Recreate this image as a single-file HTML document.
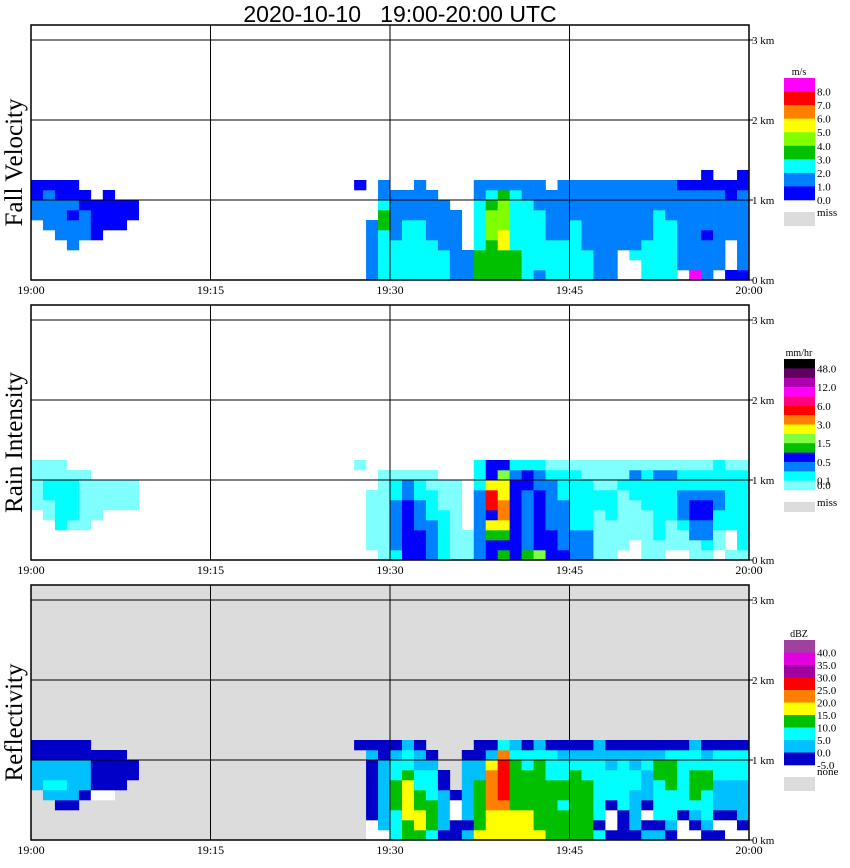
<!DOCTYPE html>
<html><head><meta charset="utf-8"><style>
html,body{margin:0;padding:0;background:#fff;}
svg{display:block;font-family:"Liberation Serif",serif;}
</style></head><body>
<svg id="chart" width="850" height="868" viewBox="0 0 850 868">
<text x="400" y="22" font-size="23" text-anchor="middle" style="white-space:pre" font-family="Liberation Sans, sans-serif">2020-10-10   19:00-20:00 UTC</text>
<g id="panels"></g>
</svg>
<script>
// time bins: minutes after 19:00; heights: km rows of 0.125 km (row 0 = 0-0.125 km)
const minutes = Array.from({length:60},(_,i)=>i);
const rowKm = 0.125;
const timeTicks = ["19:00","19:15","19:30","19:45","20:00"];
const heightTicks = ["0 km","1 km","2 km","3 km"];
// column strings, bottom-up, '.' = no echo
const fallVelocity = [
"......2211",".....22221","....222211","...2221211","....22211","....1111",".....1111",".....111","......11",
"","","","","","","","","","","","","","","","","","",".........1",
"222222","3333344322","333322222","333333222","3333332222","333322222","33322222","2222222","222",
"4443333322","4444555432","4446655542","4443333332","3333333322","2333333222","333322222","3333222222","3333332222","3332222222",
"2222222222","2222222222","...2222222","..32222222","3333222222","3333333222","3333332222",".222222221","9222222221",
"22221222211",".222222221","1...222211","12222222211"];
const rainRate = [
".....11111","....112211","...2222211","...122221","...111111","....1111",".....111",".....111",".....111",
"","","","","","","","","","","","","","","","","","",".........1",
".111111","111111111","233333221","444444331","444333221","333322211","22222111","11111111","111",
"3333333222","4457499744","5457887764","4444444432","5333333442","6444444332","4443333321","4333332221","3332222221",
"3332222211","1111122111","1111222111",".111111211","..11112231","1111122221","1122222231",".111222231",".112333221",
"1133443221","1233443221",".112233222","1..2222221","1222222221"];
const reflectivity = [
".....22211","....232211","...1232211","...1222211","....122211","....w1111","....w1111",".....1111","......11",
"","","","","","","","","","","","","","","","","","",".........1",
"ww11111121","w222222211","3334443321","4455554332","4554433221","344433321","1222211","11ww1",
"212222221","5444442211","5556666521","5556777763","5554444432","5554444331","5444444432","4444443331",
"4443443321","4444444321","4444443321","3133333322","1ww1333221","1113333321","1222233221","21w1222321",
"2133334421","1233344431","ww13333331","w123444332","1233344321","1w12223331","ww12223331","w122223331"];
const fvColors = {"1":"#0000ff","2":"#0080ff","3":"#00ffff","4":"#00c000","5":"#80ff00","6":"#ffff00","7":"#ff8000","8":"#ff0000","9":"#ff00ff"};
const rrColors = {"1":"#80ffff","2":"#00ffff","3":"#0080ff","4":"#0000ff","5":"#00c000","6":"#80ff40","7":"#ffff00","8":"#ff8000","9":"#ff0000"};
const dbzColors = {"w":"#ffffff","1":"#0000c8","2":"#00c0ff","3":"#00ffff","4":"#00c000","5":"#ffff00","6":"#ff8000","7":"#ff0000","8":"#a000a0","9":"#e000e0"};
const fvLegend = ["#ff00ff","#ff0000","#ff8000","#ffff00","#80ff00","#00c000","#00ffff","#0080ff","#0000ff"];
const fvLabels = ["8.0","7.0","6.0","5.0","4.0","3.0","2.0","1.0","0.0"];
const rrLegend = ["#000000","#600060","#b000b0","#ff00ff","#ff0080","#ff0000","#ff8000","#ffff00","#80ff40","#00c000","#0000ff","#0080ff","#00ffff","#80ffff"];
const rrLabels = ["48.0","12.0","6.0","3.0","1.5","0.5","0.1","0.0"];
const dbzLegend = ["#a040a0","#e000e0","#a000a0","#ff0000","#ff8000","#ffff00","#00c000","#00ffff","#00c0ff","#0000c8"];
const dbzLabels = ["40.0","35.0","30.0","25.0","20.0","15.0","10.0","5.0","0.0","-5.0"];

const NS="http://www.w3.org/2000/svg";
const root=document.getElementById('panels');
const X0=31,X1=749;
function xScale(m){return X0+m*(X1-X0)/60;}
function mk(tag,attrs,parent){const e=document.createElementNS(NS,tag);for(const k in attrs)e.setAttribute(k,attrs[k]);(parent||root).appendChild(e);return e;}

function panel(off,title,cols,colors,bg,legCols,legLabels,unit,missLabel,legTop,legH,labelMode){
  const base=280+off, top=25+off;
  const yScale=km=>base-km*80;
  const g=mk('g',{});
  
  
  const bgr=mk('rect',{x:X0,y:top,width:X1-X0,height:base-top,fill:bg},g);
  
  
  cols.forEach((s,i)=>{
    for(let r=0;r<s.length;r++){
      const c=s[r]; if(!(c in colors))continue;
      const x=xScale(minutes[i]), w=xScale(minutes[i]+1)-x;
      const cell=mk('rect',{x:x.toFixed(2),y:yScale((r+1)*rowKm).toFixed(2),width:(w+0.3).toFixed(2),height:10.3,fill:colors[c]},g);
      
      
    }
  });
  for(let k=1;k<=3;k++){
    const l=mk('line',{x1:X0,x2:X1,y1:yScale(k),y2:yScale(k),stroke:'#000','stroke-width':1},g);
    
    
  }
  for(let k=1;k<4;k++){
    const x=xScale(k*15);
    const l=mk('line',{x1:x,x2:x,y1:top,y2:base,stroke:'#000','stroke-width':1},g);
    
    
  }
  const fr=mk('rect',{x:X0,y:top,width:X1-X0,height:base-top,fill:'none',stroke:'#000','stroke-width':1.5},g);
  
  
  heightTicks.forEach((t,k)=>{
    const tk=mk('line',{x1:X1,x2:X1+4,y1:yScale(k),y2:yScale(k),stroke:'#000'},g);
    
    
    const tx=mk('text',{x:X1+3,y:yScale(k)+4,'font-size':11},g);
    tx.textContent=t;
    
    
  });
  timeTicks.forEach((t,k)=>{
    const tx=mk('text',{x:xScale(k*15),y:base+14,'font-size':12,'text-anchor':'middle'},g);
    tx.textContent=t;
    
    
  });
  const yt=mk('text',{x:0,y:0,'font-size':25,'text-anchor':'middle',transform:`translate(22,${(top+base)/2+10}) rotate(-90)`},g);
  yt.textContent=title;
  
  
  const lg=mk('g',{},g);
  
  
  const ut=mk('text',{x:799,y:legTop-3,'font-size':10,'text-anchor':'middle'},lg);
  ut.textContent=unit;
  
  
  const n=legCols.length, bh=legH/n;
  legCols.forEach((c,k)=>{
    const r=mk('rect',{x:784,y:(legTop+k*bh).toFixed(2),width:31,height:(bh+0.3).toFixed(2),fill:c},lg);
    
    
  });
  legLabels.forEach((t,k)=>{
    let y;
    if(labelMode==='rr'){const idx=[1,3,5,7,9,11,13,14][k]; y=legTop+idx*bh+(k===7?-1:4);}
    else y=legTop+(k+1)*bh+4;
    const tx=mk('text',{x:817,y:y.toFixed(1),'font-size':11},lg);
    tx.textContent=t;
    
    
  });
  const my=legTop+legH+12;
  const mr=mk('rect',{x:784,y:my,width:31,height:labelMode==='rr'?10:14,fill:'#dcdcdc'},lg);
  
  
  const mt=mk('text',{x:817,y:my+(labelMode==='dbz'?-2:4),'font-size':11},lg);
  mt.textContent=missLabel;
  
  
}
panel(0,"Fall Velocity",fallVelocity,fvColors,'#ffffff',fvLegend,fvLabels,"m/s","miss",78,122,'fv');
panel(280,"Rain Intensity",rainRate,rrColors,'#ffffff',rrLegend,rrLabels,"mm/hr","miss",359,131,'rr');
panel(560,"Reflectivity",reflectivity,dbzColors,'#dcdcdc',dbzLegend,dbzLabels,"dBZ","none",640,125,'dbz');
</script>
</body></html>
